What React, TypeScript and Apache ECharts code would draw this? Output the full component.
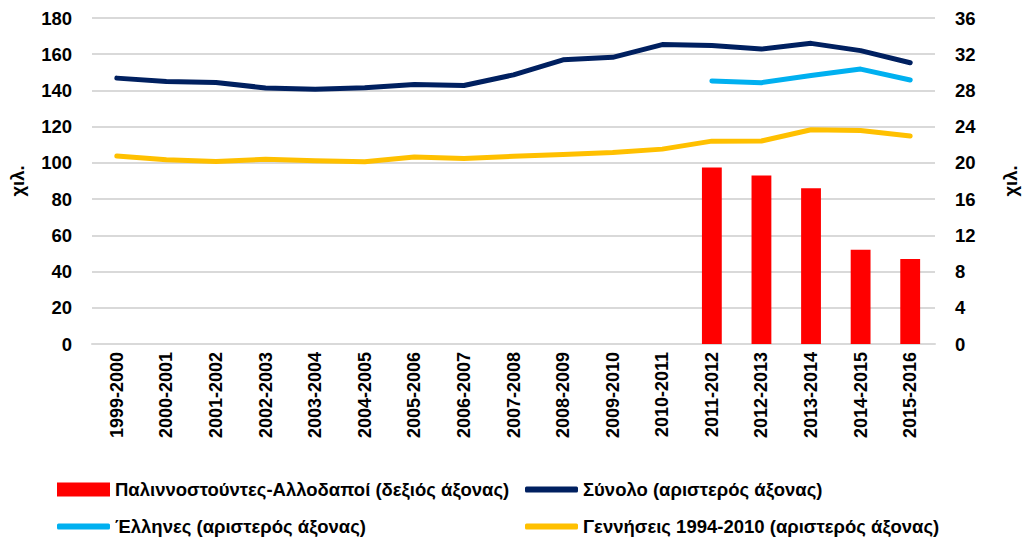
import React, { useEffect, useRef } from "react";
import * as echarts from "echarts";

const categories = [
  "1999-2000", "2000-2001", "2001-2002", "2002-2003", "2003-2004", "2004-2005",
  "2005-2006", "2006-2007", "2007-2008", "2008-2009", "2009-2010", "2010-2011",
  "2011-2012", "2012-2013", "2013-2014", "2014-2015", "2015-2016",
];

const returneesForeigners = [null, null, null, null, null, null, null, null, null, null, null, null, 19.5, 18.6, 17.2, 10.4, 9.4];
const total = [146.8, 144.9, 144.4, 141.4, 140.6, 141.5, 143.3, 142.7, 148.6, 156.9, 158.3, 165.3, 164.8, 162.9, 166.0, 162.0, 155.3];
const greeks = [null, null, null, null, null, null, null, null, null, null, null, null, 145.2, 144.3, 148.2, 151.8, 145.8];
const births = [103.8, 101.7, 100.8, 102.0, 101.2, 100.6, 103.3, 102.4, 103.6, 104.6, 105.7, 107.6, 112.0, 112.1, 118.3, 117.9, 114.8];

const leftTicks = { min: 0, max: 180, interval: 20 };
const rightTicks = { min: 0, max: 36, interval: 4 };

const NAMES = [
  "Παλιννοστούντες-Αλλοδαποί (δεξιός άξονας)",
  "Σύνολο (αριστερός άξονας)",
  "Έλληνες (αριστερός άξονας)",
  "Γεννήσεις 1994-2010 (αριστερός άξονας)",
];

const FONT = "'Liberation Sans', Arial, sans-serif";

export default function App() {
  const ref = useRef<HTMLDivElement>(null);
  useEffect(() => {
    if (!ref.current) return;
    const chart = echarts.init(ref.current, undefined, { renderer: "svg" });
    const legendText = { fontSize: 18.5, fontWeight: "bold" as const, color: "#000", fontFamily: FONT };
    const mkLegend = (name: string, left: number, top: number, isBar: boolean) => ({
      data: [name],
      left,
      top,
      icon: isBar ? "rect" : "roundRect",
      itemWidth: 53,
      itemHeight: isBar ? 14 : 6,
      itemGap: 0,
      selectedMode: false,
      padding: 0,
      textStyle: legendText,
    });
    const axisText = { fontSize: 18.5, fontWeight: "bold" as const, color: "#000", fontFamily: FONT };
    chart.setOption({
      animation: false,
      backgroundColor: "#fff",
      grid: { left: 90, right: 73, top: 18, bottom: 200, containLabel: false },
      legend: [
        mkLegend(NAMES[0], 57, 480, true),
        mkLegend(NAMES[1], 525, 480, false),
        mkLegend(NAMES[2], 57, 517, false),
        mkLegend(NAMES[3], 525, 517, false),
      ],
      xAxis: {
        type: "category",
        data: categories,
        boundaryGap: true,
        axisLine: { show: true, lineStyle: { color: "#d9d9d9", width: 2 } },
        axisTick: { show: false },
        axisLabel: {
          rotate: 90,
          interval: 0,
          margin: 8,
          fontSize: 18,
          fontWeight: "bold",
          color: "#000",
          fontFamily: FONT,
        },
      },
      yAxis: [
        {
          type: "value",
          ...leftTicks,
          position: "left",
          name: "χιλ.",
          nameLocation: "middle",
          nameRotate: 90,
          nameGap: 65,
          nameTextStyle: axisText,
          axisLine: { show: false },
          axisTick: { show: false },
          axisLabel: { margin: 20, ...axisText },
          splitLine: { show: true, lineStyle: { color: "#d9d9d9", width: 2 } },
        },
        {
          type: "value",
          ...rightTicks,
          position: "right",
          name: "χιλ.",
          nameLocation: "middle",
          nameRotate: 90,
          nameGap: 66,
          nameTextStyle: axisText,
          axisLine: { show: false },
          axisTick: { show: false },
          axisLabel: { margin: 20, ...axisText },
          splitLine: { show: false },
        },
      ],
      series: [
        {
          name: NAMES[0],
          type: "bar",
          yAxisIndex: 1,
          data: returneesForeigners,
          barWidth: "40%",
          itemStyle: { color: "#ff0000" },
          z: 1,
        },
        {
          name: NAMES[1],
          type: "line",
          yAxisIndex: 0,
          data: total,
          symbol: "none",
          itemStyle: { color: "#002060" },
          lineStyle: { color: "#002060", width: 5, cap: "round", join: "round" },
          z: 3,
        },
        {
          name: NAMES[2],
          type: "line",
          yAxisIndex: 0,
          data: greeks,
          symbol: "none",
          itemStyle: { color: "#00b0f0" },
          lineStyle: { color: "#00b0f0", width: 5, cap: "round", join: "round" },
          z: 3,
        },
        {
          name: NAMES[3],
          type: "line",
          yAxisIndex: 0,
          data: births,
          symbol: "none",
          itemStyle: { color: "#ffc000" },
          lineStyle: { color: "#ffc000", width: 5, cap: "round", join: "round" },
          z: 3,
        },
      ],
    });
    return () => chart.dispose();
  }, []);
  return <div ref={ref} style={{ position: "fixed", left: 0, top: 0, width: 1028, height: 544 }} />;
}
